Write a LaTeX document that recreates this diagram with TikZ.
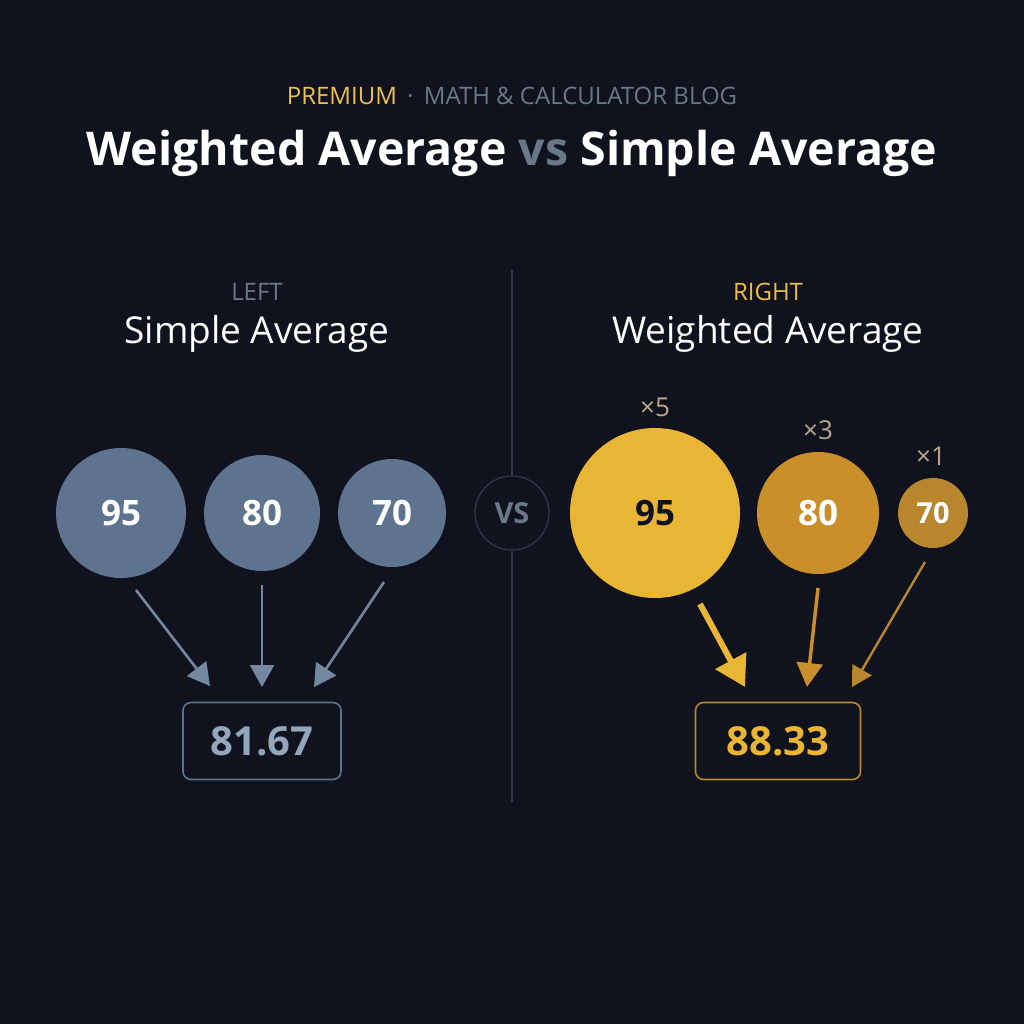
\documentclass[tikz,border=0pt]{standalone}
\usepackage{fontspec}
\setmainfont{Open Sans}
\usetikzlibrary{arrows.meta,positioning}
\definecolor{bgnavy}{HTML}{10121D}
\definecolor{slate}{HTML}{5E738D}
\definecolor{slatearrow}{HTML}{7489A1}
\definecolor{slatetext}{HTML}{93A6BB}
\definecolor{greylabel}{HTML}{6A7888}
\definecolor{gold}{HTML}{E8B535}
\definecolor{amber}{HTML}{C98F2A}
\definecolor{bronze}{HTML}{B8862C}
\definecolor{weightlbl}{HTML}{B7A98C}
\definecolor{divider}{HTML}{353848}
\tikzset{
  fsize/.style={font=\fontsize{#1}{#1}\selectfont},
  bsize/.style={font=\fontsize{#1}{#1}\selectfont\bfseries},
  val/.style={circle, inner sep=0pt, minimum size=#1, bsize=35},
  resbox/.style={draw, rounded corners=8pt, line width=1.6pt, minimum width=158pt, minimum height=77pt, bsize=40}
}
\begin{document}
\begin{tikzpicture}[x=1pt, y=-1pt]
    \fill[bgnavy] (0,0) rectangle (1024,1024);
    % place nodes
    \node[fsize=24] (tag) at (512,96) {\textcolor{gold!85!white}{PREMIUM} \textcolor{greylabel}{\,·\,} \textcolor{greylabel}{MATH \& CALCULATOR BLOG}};
    \node[bsize=46.5, text=white] (title) at (512,153) {Weighted Average \textcolor{greylabel}{vs} Simple Average};
    \node[fsize=24, text=greylabel] (left) at (257,292) {LEFT};
    \node[fsize=37, text=white] (lefthead) at (257,334) {Simple Average};
    \node[fsize=24, text=gold!90!white] (right) at (768,292) {RIGHT};
    \node[fsize=37, text=white] (righthead) at (768,334) {Weighted Average};
    \node[val=130pt, fill=slate, text=white] (a95) at (121,513) {95};
    \node[val=116pt, fill=slate, text=white] (a80) at (262,513) {80};
    \node[val=108pt, fill=slate, text=white] (a70) at (392,513) {70};
    \node[circle, draw=divider, line width=1.2pt, minimum size=74pt, inner sep=0pt, bsize=29, text=greylabel] (vs) at (512,513) {VS};
    \node[val=170pt, fill=gold, text=bgnavy] (w95) at (655,513) {95};
    \node[val=122pt, fill=amber, text=white] (w80) at (818,513) {80};
    \node[val=70pt, fill=bronze, text=white, bsize=29] (w70) at (933,513) {70};
    \node[fsize=26, text=weightlbl] (x5) at (655,407) {×5};
    \node[fsize=26, text=weightlbl] (x3) at (818,430) {×3};
    \node[fsize=26, text=weightlbl] (x1) at (931,456) {×1};
    \node[resbox, draw=slate, text=slatetext] (simple) at (262,741) {81.67};
    \node[resbox, draw=bronze, text=gold, minimum width=165pt] (weighted) at (778,741) {88.33};
    \coordinate (topline) at (512,270);
    \coordinate (bottomline) at (512,802);
    \coordinate (s1) at (136,590);
    \coordinate (s2) at (262,585);
    \coordinate (s3) at (384,582);
    \coordinate (e1) at (210,686);
    \coordinate (e2) at (262,687);
    \coordinate (e3) at (314,687);
    \coordinate (r1) at (700,604);
    \coordinate (r2) at (818,588);
    \coordinate (r3) at (925,562);
    \coordinate (f1) at (745,687);
    \coordinate (f2) at (807,687);
    \coordinate (f3) at (852,687);
    % draw edges
    \draw[divider, line width=1.2pt] (topline) -- (vs);
    \draw[divider, line width=1.2pt] (vs) -- (bottomline);
    \draw[slatearrow, line width=2.6pt, -{Triangle[length=22pt,width=24pt]}] (s1) -- (e1);
    \draw[slatearrow, line width=2.6pt, -{Triangle[length=22pt,width=24pt]}] (s2) -- (e2);
    \draw[slatearrow, line width=2.6pt, -{Triangle[length=22pt,width=24pt]}] (s3) -- (e3);
    \draw[gold, line width=6pt, -{Triangle[length=30pt,width=34pt]}] (r1) -- (f1);
    \draw[amber, line width=3.5pt, -{Triangle[length=24pt,width=26pt]}] (r2) -- (f2);
    \draw[bronze, line width=2.4pt, -{Triangle[length=20pt,width=22pt]}] (r3) -- (f3);
\end{tikzpicture}
\end{document}
